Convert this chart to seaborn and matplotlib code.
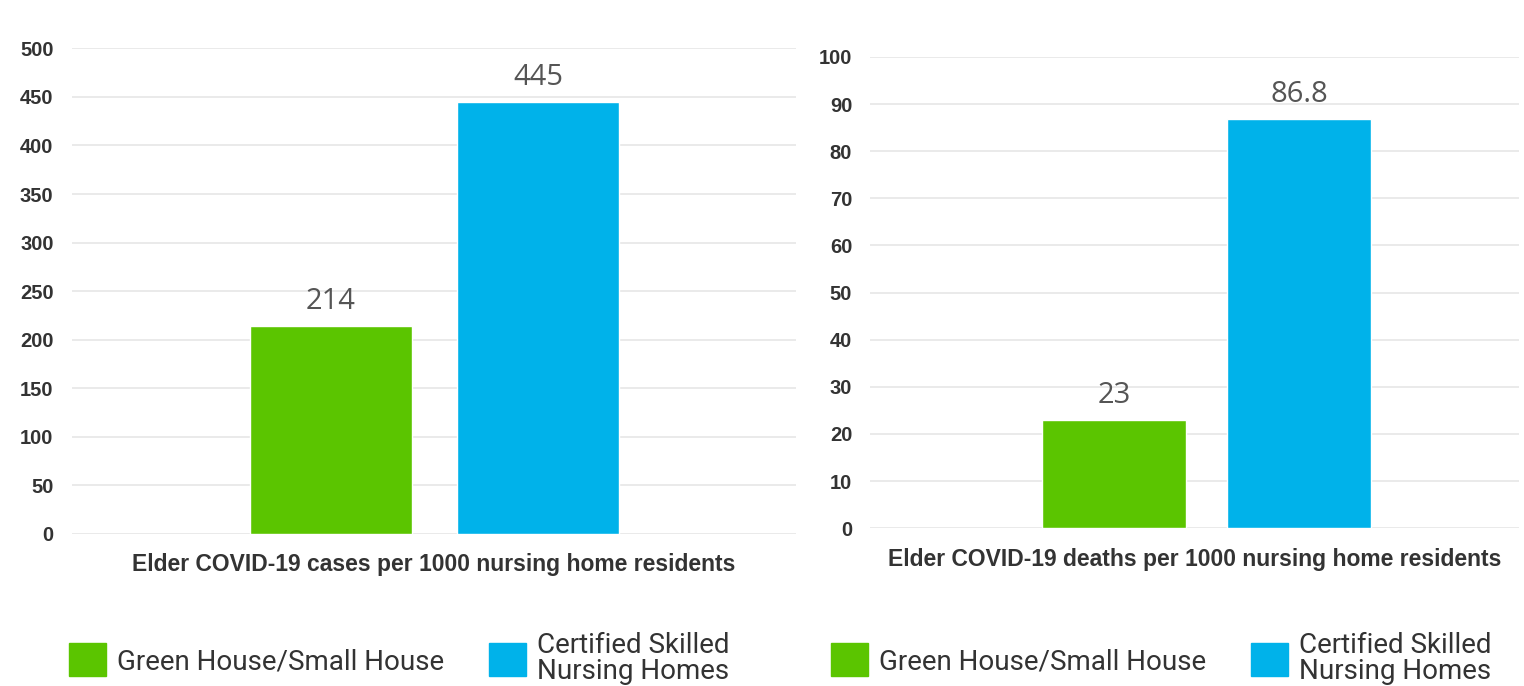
import seaborn as sns
import matplotlib.pyplot as plt
import matplotlib.patches as mpatches
import pandas as pd

# data
groups = ['Green House/Small House', 'Certified Skilled\nNursing Homes']
cases = [214, 445]
deaths = [23, 86.8]
case_labels = ['214', '445']
death_labels = ['23', '86.8']
case_ticks = [0, 50, 100, 150, 200, 250, 300, 350, 400, 450, 500]
death_ticks = [0, 10, 20, 30, 40, 50, 60, 70, 80, 90, 100]
xlabels = ['Elder COVID-19 cases per 1000 nursing home residents',
           'Elder COVID-19 deaths per 1000 nursing home residents']

colors = ['#5BC500', '#00B2EA']

sns.set_theme(style='white')
plt.rcParams['font.family'] = ['Liberation Sans', 'DejaVu Sans']

fig = plt.figure(figsize=(15.24, 6.86), dpi=100)
ax1 = fig.add_axes([0.047, 0.2216, 0.475, 0.708])
ax2 = fig.add_axes([0.571, 0.230, 0.426, 0.687])

panels = [
    (ax1, cases, case_labels, case_ticks, xlabels[0], (-1.25, 2.24)),
    (ax2, deaths, death_labels, death_ticks, xlabels[1], (-1.32, 2.19)),
]

for ax, vals, labels, ticks, xlab, xlim in panels:
    df = pd.DataFrame({'group': groups, 'value': vals})
    sns.barplot(data=df, x='group', y='value', hue='group', palette=colors,
                width=0.78, legend=False, ax=ax, saturation=1)
    for cont, lab in zip(ax.containers, labels):
        ax.bar_label(cont, labels=[lab], padding=7, fontsize=21,
                     color='#555555', family='Open Sans')
    ax.set_ylim(ticks[0], ticks[-1])
    ax.set_yticks(ticks)
    ax.set_xlim(*xlim)
    ax.set_xticks([])
    ax.set_ylabel('')
    ax.set_xlabel(xlab, fontsize=16.5, fontweight='bold', color='#333333',
                  labelpad=14)
    ax.tick_params(axis='y', labelsize=14.5, labelcolor='#333333', length=0, pad=13)
    for t in ax.get_yticklabels():
        t.set_fontweight('bold')
    ax.yaxis.grid(True, color='#e6e6e6', linewidth=1.2)
    ax.set_axisbelow(True)
    sns.despine(ax=ax, left=True, bottom=True)

# legends under each panel
for x0 in [0.045, 0.545]:
    handles = [mpatches.Patch(color=c, label=g) for c, g in zip(colors, groups)]
    leg = fig.legend(handles=handles, loc='center left', bbox_to_anchor=(x0, 0.04),
                     ncol=2, frameon=False, handlelength=1.35,
                     handleheight=1.45, handletextpad=0.4, columnspacing=1.6,
                     labelcolor='#333333', prop={'family': 'Roboto', 'size': 20},
                     borderaxespad=0, borderpad=0)
    for t in leg.get_texts():
        t.set_linespacing(0.95)

fig.savefig('out.png', dpi=100)
